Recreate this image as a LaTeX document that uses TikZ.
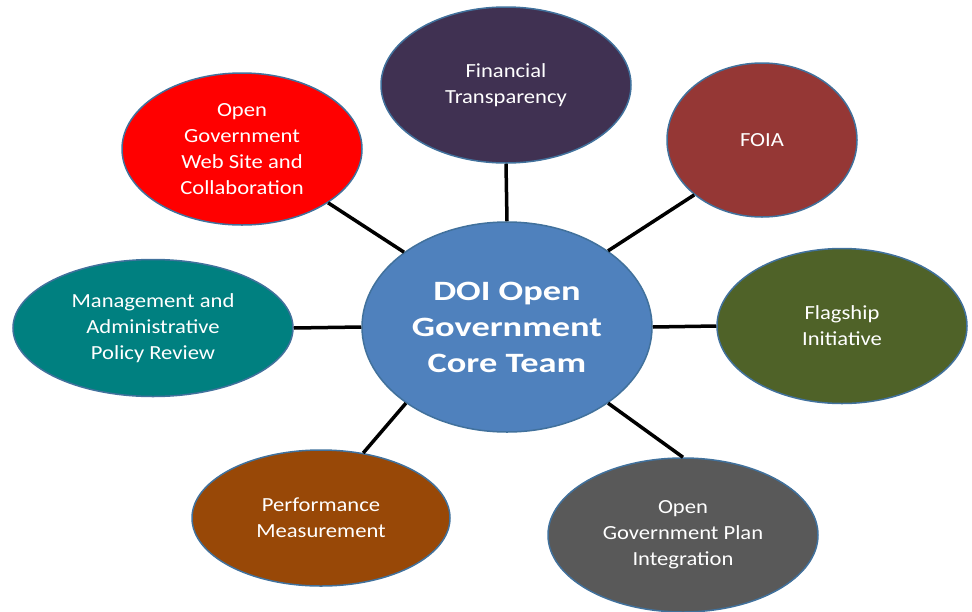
\documentclass[tikz,border=0pt]{standalone}
\usepackage{fontspec}
\setmainfont{Carlito}
\newfontfamily\widetext[FakeStretch=1.13]{Carlito}
\newfontfamily\widecore[FakeStretch=1.3]{Carlito}
\usetikzlibrary{shapes.geometric}
\definecolor{coreblue}{HTML}{4F81BD}
\definecolor{edgeblue}{HTML}{41719C}
\definecolor{finpurple}{HTML}{403152}
\definecolor{foiared}{HTML}{953735}
\definecolor{webred}{HTML}{FF0000}
\definecolor{mgmtteal}{HTML}{008080}
\definecolor{flaggreen}{HTML}{4F6228}
\definecolor{perfbrown}{HTML}{984807}
\definecolor{plangray}{HTML}{595959}
\tikzset{
  bubble/.style={ellipse, draw=edgeblue, line width=1.5pt, text=white, align=center, inner sep=0pt,
    font=\widetext\fontsize{20}{26}\selectfont},
  corebubble/.style={bubble, fill=coreblue, font=\widecore\fontsize{28}{36}\selectfont\bfseries},
  spoke/.style={line width=3.5pt, black}
}
\begin{document}
\begin{tikzpicture}[x=1pt,y=-1pt]
\useasboundingbox (0,0) rectangle (972,611);
\node[corebubble, minimum width=290pt, minimum height=210pt] (core) at (507,327) {DOI Open\\Government\\Core Team};
\node[bubble, fill=finpurple, minimum width=250pt, minimum height=156pt] (fin) at (506,85) {Financial\\Transparency};
\node[bubble, fill=foiared, minimum width=190pt, minimum height=154pt] (foia) at (762,140) {FOIA};
\node[bubble, fill=webred, minimum width=240pt, minimum height=152pt] (web) at (242,149) {Open\\Government\\Web Site and\\Collaboration};
\node[bubble, fill=mgmtteal, minimum width=280pt, minimum height=137pt] (mgmt) at (153,328) {Management and\\Administrative\\Policy Review};
\node[bubble, fill=flaggreen, minimum width=250pt, minimum height=155pt] (flag) at (842,326) {Flagship\\Initiative};
\node[bubble, fill=perfbrown, minimum width=258pt, minimum height=136pt] (perf) at (321,518) {Performance\\Measurement};
\node[bubble, fill=plangray, minimum width=270pt, minimum height=154pt] (plan) at (683,535) {Open\\Government Plan\\Integration};
\draw[spoke] (fin.south) -- (core.north);
\draw[spoke] (core.37) -- (foia.219);
\draw[spoke] (core.144) -- (web.-32);
\draw[spoke] (mgmt.east) -- (core.west);
\draw[spoke] (core.east) -- (flag.west);
\draw[spoke] (core.217) -- (perf.57);
\draw[spoke] (core.-37) -- (plan.north);
\end{tikzpicture}
\end{document}
